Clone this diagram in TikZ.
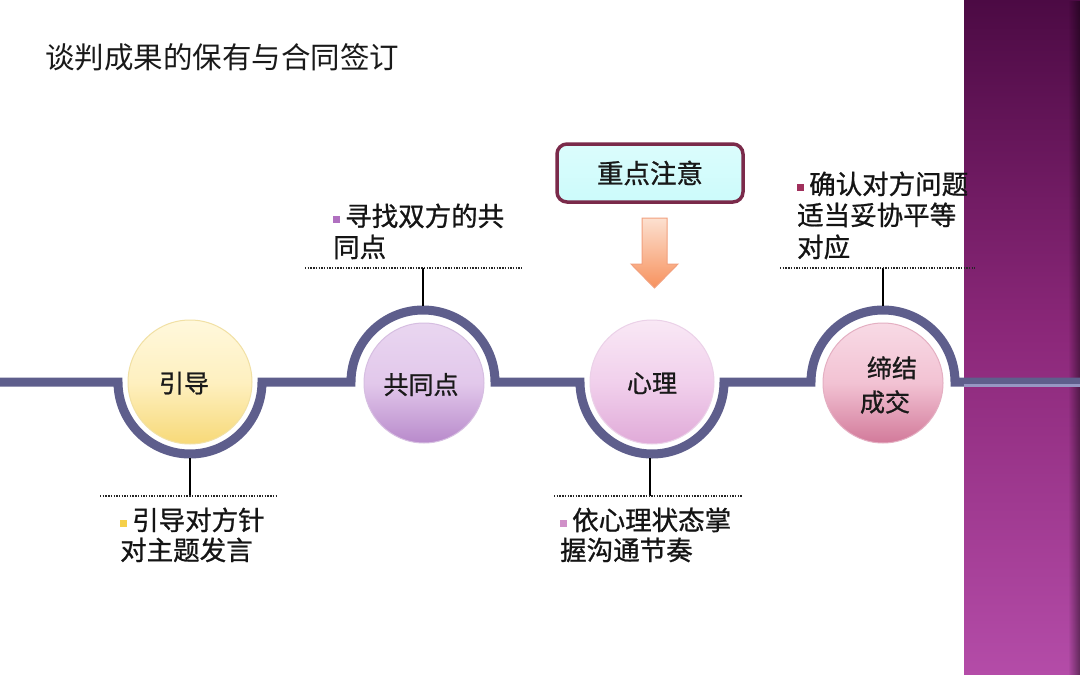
\documentclass[tikz,border=0pt]{standalone}
\usepackage{fontspec}
\setmainfont{Noto Sans CJK SC}
\newfontfamily\heavycjk[FakeBold=0.9]{Noto Sans CJK SC}
\usetikzlibrary{fadings}
\definecolor{linecol}{RGB}{94,94,140}
\definecolor{linelite}{RGB}{150,150,195}
\definecolor{panTop}{RGB}{76,10,68}
\definecolor{panMid}{RGB}{140,40,122}
\definecolor{panBot}{RGB}{180,76,168}
\definecolor{Y1}{HTML}{FFF8DC}\definecolor{Y2}{HTML}{FEF0C0}\definecolor{Y3}{HTML}{F7D978}\definecolor{Yd}{HTML}{F1E0A4}
\definecolor{P1}{HTML}{E9D6F0}\definecolor{P2}{HTML}{E2C8EB}\definecolor{P3}{HTML}{B88ACB}\definecolor{Pd}{HTML}{D6BEE1}
\definecolor{Q1}{HTML}{F9E8F5}\definecolor{Q2}{HTML}{F1D0EC}\definecolor{Q3}{HTML}{E0AAD8}\definecolor{Qd}{HTML}{EBD1E8}
\definecolor{R1}{HTML}{F8DAE5}\definecolor{R2}{HTML}{F2C2D3}\definecolor{R3}{HTML}{D27A9A}\definecolor{Rd}{HTML}{E4AFC2}
\definecolor{bY}{HTML}{F5D04A}\definecolor{bP}{HTML}{B070C0}\definecolor{bQ}{HTML}{D090C8}\definecolor{bR}{HTML}{A0305C}
\definecolor{boxfill}{HTML}{CCFBFB}\definecolor{boxline}{HTML}{7A2A4A}
\definecolor{arTop}{HTML}{FCE0D0}\definecolor{arBot}{HTML}{F7925E}\definecolor{arLine}{HTML}{F2A07E}
\newcommand\bul[1]{\textcolor{#1}{\raisebox{3pt}{\rule{7pt}{7pt}}}\hspace{5pt}}
\tikzset{
  mainline/.style={line width=9pt, draw=linecol, line join=miter},
  conn/.style={line width=1.8pt, draw=black},
  dotline/.style={line width=1.5pt, draw=black!85, dash pattern=on 1.4pt off 1.3pt},
  ballY/.style={circle, minimum size=124pt, inner sep=0pt, draw=Yd, line width=1pt, top color=Y1, bottom color=Y3, middle color=Y2},
  ballP/.style={circle, minimum size=120pt, inner sep=0pt, draw=Pd, line width=1pt, top color=P1, bottom color=P3, middle color=P2},
  ballQ/.style={circle, minimum size=124pt, inner sep=0pt, draw=Qd, line width=1pt, top color=Q1, bottom color=Q3, middle color=Q2},
  ballR/.style={circle, minimum size=120pt, inner sep=0pt, draw=Rd, line width=1pt, top color=R1, bottom color=R3, middle color=R2},
  lbl/.style={anchor=base west, inner sep=0pt, font=\heavycjk\fontsize{26.5}{31}\selectfont, text=black!92},
  ctext/.style={anchor=base, inner sep=0pt, font=\heavycjk\fontsize{25}{30}\selectfont, text=black!90},
}
\begin{document}
\begin{tikzpicture}[x=1pt,y=1pt]
\useasboundingbox (0,0) rectangle (1080,-675);
\fill[white] (0,0) rectangle (1080,-675);
% right panel
\shade[top color=panTop, bottom color=panBot, middle color=panMid] (964,0) rectangle (1080,-675);
\fill[black, opacity=0.45, path fading=west] (1068,0) rectangle (1080,-675);
% title
\node[anchor=base west, inner sep=0pt, font=\fontsize{29.5}{34}\selectfont, text=black!90] (title) at (45,-68) {谈判成果的保有与合同签订};
% main line
\draw[mainline] (0,-382) -- (118,-382)
  arc[start angle=180, end angle=360, radius=72] -- (351,-382)
  arc[start angle=180, end angle=0, radius=72] -- (580,-382)
  arc[start angle=180, end angle=360, radius=72] -- (811,-382)
  arc[start angle=180, end angle=0, radius=72] -- (1080,-382);
\draw[line width=3pt, draw=linelite] (964,-385) -- (1080,-385);
% balls
\node[ballY] (c1) at (190,-382) {};
\node[ballP] (c2) at (424,-383) {};
\node[ballQ] (c3) at (652,-382) {};
\node[ballR] (c4) at (883,-383) {};
\node[ctext] (t1) at (184,-392.5) {引导};
\node[ctext] (t2) at (421,-394) {共同点};
\node[ctext] (t3) at (652,-392.5) {心理};
\node[ctext] (t4a) at (892,-377.5) {缔结};
\node[ctext] (t4b) at (885,-411.5) {成交};
% connectors and dotted rules
\coordinate (d1) at (190,-458); \coordinate (b1) at (190,-496);
\coordinate (b1l) at (100,-496); \coordinate (b1r) at (278,-496);
\draw[conn] (d1) -- (b1);
\draw[dotline] (b1l) -- (b1r);
\coordinate (d2) at (423,-306); \coordinate (b2) at (423,-268);
\coordinate (b2l) at (305,-268); \coordinate (b2r) at (522,-268);
\draw[conn] (d2) -- (b2);
\draw[dotline] (b2l) -- (b2r);
\coordinate (d3) at (650,-458); \coordinate (b3) at (650,-496);
\coordinate (b3l) at (554,-496); \coordinate (b3r) at (742,-496);
\draw[conn] (d3) -- (b3);
\draw[dotline] (b3l) -- (b3r);
\coordinate (d4) at (883,-306); \coordinate (b4) at (883,-268);
\coordinate (b4l) at (780,-268); \coordinate (b4r) at (975,-268);
\draw[conn] (d4) -- (b4);
\draw[dotline] (b4l) -- (b4r);
% labels
\node[lbl] (l1a) at (120,-530) {\bul{bY}引导对方针};
\node[lbl] (l1b) at (120,-560) {对主题发言};
\node[lbl] (l2a) at (333,-226) {\bul{bP}寻找双方的共};
\node[lbl] (l2b) at (333,-257) {同点};
\node[lbl] (l3a) at (560,-530) {\bul{bQ}依心理状态掌};
\node[lbl] (l3b) at (560,-560) {握沟通节奏};
\node[lbl] (l4a) at (797,-194) {\bul{bR}确认对方问题};
\node[lbl] (l4b) at (797,-225) {适当妥协平等};
\node[lbl] (l4c) at (797,-257) {对应};
% key box and arrow
\node[draw=boxline, line width=3.5pt, rounded corners=10pt, top color=boxfill!70!white, bottom color=boxfill, minimum width=186pt, minimum height=58pt, font=\heavycjk\fontsize{26.5}{30}\selectfont, text=black!90] (key) at (650,-173) {重点注意};
\shade[top color=arTop, bottom color=arBot, draw=arLine, line width=1pt]
  (642,-218) -- (667,-218) -- (667,-264) -- (678,-264) -- (654.5,-288) -- (631,-264) -- (642,-264) -- cycle;
\end{tikzpicture}
\end{document}
